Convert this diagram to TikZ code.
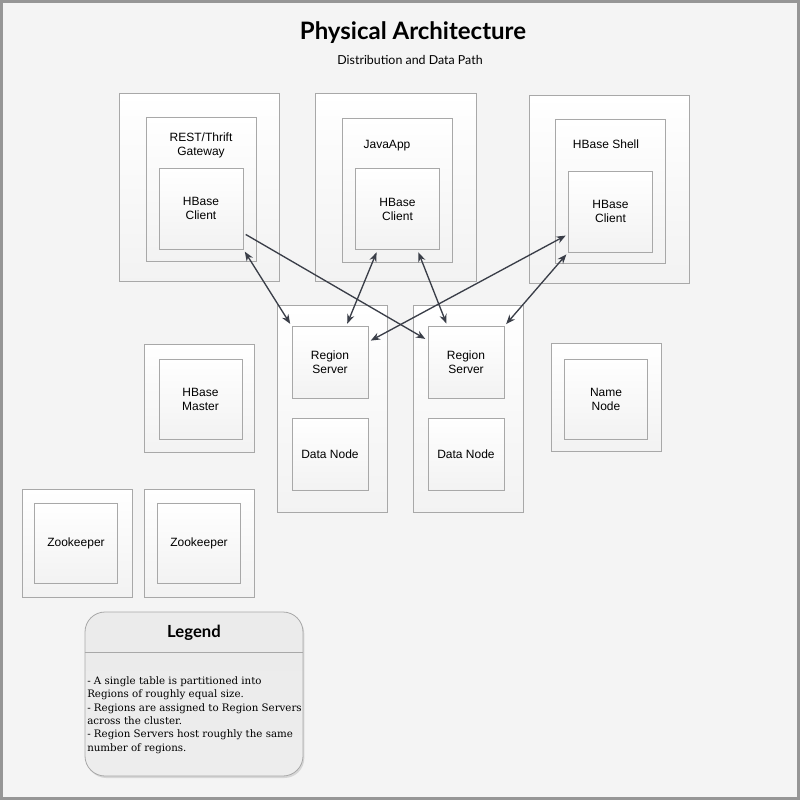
\documentclass[tikz,border=0pt]{standalone}
\usepackage{fontspec}
\setmainfont{Liberation Sans}
\newfontfamily\titlefont{Lato}
\newfontfamily\legendfont{DejaVu Serif}
\usepackage{tikz}
\definecolor{paper}{RGB}{244, 244, 244}
\definecolor{framegray}{RGB}{150, 150, 150}
\definecolor{edgegray}{RGB}{168, 168, 168}
\definecolor{arrowgray}{RGB}{58, 62, 72}
\usetikzlibrary{arrows.meta, positioning, shadows}

\begin{document}
\begin{tikzpicture}[
    x=0.75pt, y=-0.75pt,
    box/.style={rectangle, draw=edgegray, line width=0.6pt, top color=white, bottom color=black!5, inner sep=0pt, align=center, font=\fontsize{9}{10.5}\selectfont},
    hostbox/.style={box, minimum width=120.5pt, minimum height=141pt},
    procbox/.style={box, minimum width=82.5pt, minimum height=108pt},
    clientbox/.style={box, minimum width=63pt, minimum height=60.75pt},
    serverbox/.style={box, minimum width=82.5pt, minimum height=155.25pt},
    rolebox/.style={box, minimum width=57pt, minimum height=54pt},
    smallbox/.style={box, minimum width=82.5pt, minimum height=81pt},
    servicebox/.style={box, minimum width=62.25pt, minimum height=60pt},
    hostlabel/.style={align=center, font=\fontsize{9}{10.5}\selectfont},
    legendbox/.style={rectangle, draw=edgegray, line width=0.6pt, rounded corners=15pt, top color=black!8, middle color=white, bottom color=black!7, minimum width=163.5pt, minimum height=123pt, drop shadow={shadow xshift=1pt, shadow yshift=-1.5pt, opacity=0.25}},
    link/.style={{Stealth[length=7pt,width=5.5pt]}-{Stealth[length=7pt,width=5.5pt]}, line width=1pt, arrowgray, shorten <=2pt, shorten >=2pt},
    onelink/.style={link, -{Stealth[length=7pt,width=5.5pt]}}
]
    \fill[paper] (0,0) rectangle (800,800);
    \draw[framegray, line width=2.25pt] (1.5,1.5) rectangle (798.5,798.5);
    \useasboundingbox (0,0) rectangle (800,800);

    \node[font=\titlefont\bfseries\fontsize{18}{21}\selectfont] (title) at (413,33) {Physical Architecture};
    \node[font=\titlefont\fontsize{9.3}{11}\selectfont] (subtitle) at (410,60) {Distribution and Data Path};

    % clients
    \node[hostbox] (restout) at (199.5,187) {};
    \node[procbox] (restin) at (201,189) {};
    \node[hostlabel] at (201,145) {REST/Thrift\\Gateway};
    \node[clientbox] (restc) at (201,208.5) {HBase\\Client};

    \node[hostbox] (javaout) at (396,187) {};
    \node[procbox] (javain) at (397,190) {};
    \node[hostlabel] at (387,146) {JavaApp};
    \node[clientbox] (javac) at (397.5,209) {HBase\\Client};

    \node[hostbox] (shellout) at (609.5,189) {};
    \node[procbox] (shellin) at (610,191.5) {};
    \node[hostlabel] at (606,144) {HBase Shell};
    \node[clientbox] (shellc) at (610.5,211.5) {HBase\\Client};

    % region servers
    \node[serverbox] (col1) at (332,408.5) {};
    \node[rolebox] (rs1) at (330,362.5) {Region\\Server};
    \node[rolebox] (dn1) at (330,454) {Data Node};

    \node[serverbox] (col2) at (468.5,408.5) {};
    \node[rolebox] (rs2) at (466,362.5) {Region\\Server};
    \node[rolebox] (dn2) at (466,454) {Data Node};

    % other services
    \node[smallbox] (masterout) at (199.5,398) {};
    \node[servicebox] (master) at (200.5,399) {HBase\\Master};
    \node[smallbox] (nameout) at (606,397.5) {};
    \node[servicebox] (namenode) at (606,399) {Name\\Node};
    \node[smallbox] (zkaout) at (77,543) {};
    \node[servicebox] (zka) at (76,543) {Zookeeper};
    \node[smallbox] (zkbout) at (199.5,543) {};
    \node[servicebox] (zkb) at (199,543) {Zookeeper};

    % legend
    \node[legendbox] (legend) at (194,694) {};
    \draw[edgegray, line width=0.6pt] ([yshift=-30.75pt]legend.north west) -- ([yshift=-30.75pt]legend.north east);
    \node[font=\titlefont\bfseries\fontsize{12.5}{14}\selectfont] (legendtitle) at (194,633) {Legend};
    \node[anchor=west, align=left, inner sep=0pt, font=\legendfont\fontsize{7.7}{10.1}\selectfont] (legendtext) at (87,715) {- A single table is partitioned into\\Regions of roughly equal size.\\- Regions are assigned to Region Servers\\across the cluster.\\- Region Servers host roughly the same\\number of regions.};

    \draw[link] (restc.south east) -- (rs1.north west);
    \draw[onelink] (restc) -- (rs2);
    \draw[link] (javac.-116) -- (rs1.66);
    \draw[link] (javac.-64) -- (rs2.117);
    \draw[link] (shellc) -- (rs1);
    \draw[link] (shellc.south west) -- (rs2.north east);
\end{tikzpicture}
\end{document}
